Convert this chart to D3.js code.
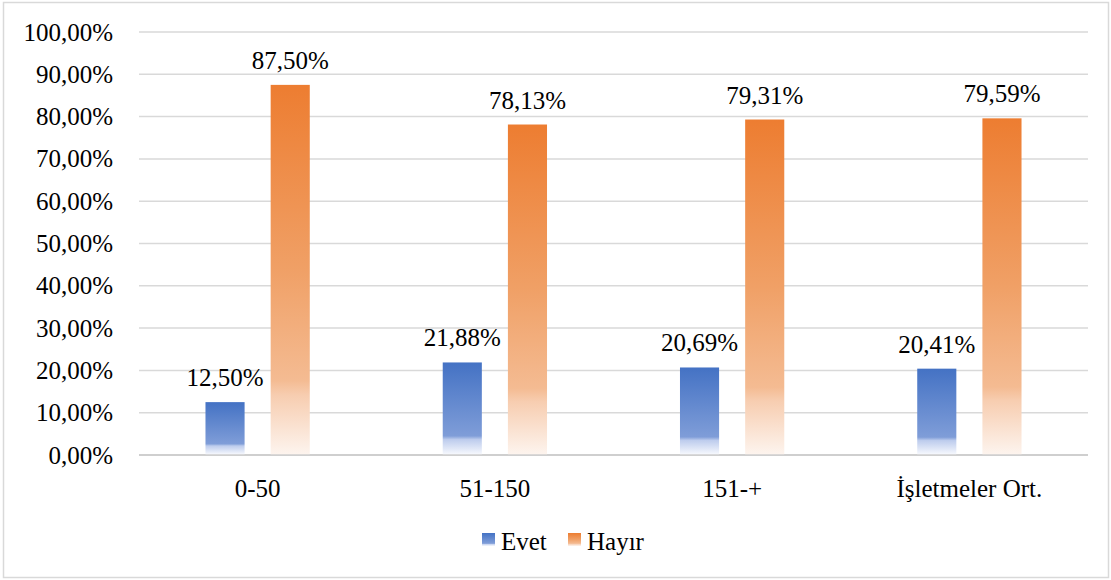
<!DOCTYPE html>
<html>
<head>
    <meta charset="utf-8">
    <script src="https://cdn.jsdelivr.net/npm/d3@7"></script>
    <style>
        body { margin: 0; background: white; }
        svg { display: block; }
        svg text { font-family: "Liberation Serif", "Times New Roman", serif; }
    </style>
</head>
<body>
<svg id="chart"></svg>
<script>
    // data
    let categories = ["0-50", "51-150", "151-+", "İşletmeler Ort."];
    let seriesNames = ["Evet", "Hayır"];
    let evet = [12.50, 21.88, 20.69, 20.41];
    let hayir = [87.50, 78.13, 79.31, 79.59];
    let yTicks = [0, 10, 20, 30, 40, 50, 60, 70, 80, 90, 100];

    let width = 1111, height = 580;
    let svg = d3.select("#chart").attr("width", width).attr("height", height);

    // turkish style numbers: comma decimal
    let locale = d3.formatLocale({decimal: ",", thousands: ".", grouping: [3], currency: ["", ""]});
    let fmt = v => locale.format(".2f")(v) + "%";

    // gradients (top solid -> near white at bottom)
    let defs = svg.append("defs");
    let grads = [
        {id: "gBlue", stops: [[0, "#4472C4"], [0.8, "#7f9dd8"], [0.84, "#bdcced"], [1, "#f6f8fd"]]},
        {id: "gOrange", stops: [[0, "#ED7D31"], [0.5, "#f0a066"], [0.8, "#f4bb92"], [0.84, "#f7cdb0"], [1, "#fdf4ee"]]}
    ];
    grads.forEach(g => {
        let lg = defs.append("linearGradient").attr("id", g.id)
            .attr("x1", 0).attr("y1", 0).attr("x2", 0).attr("y2", 1);
        g.stops.forEach(s => lg.append("stop").attr("offset", s[0]).attr("stop-color", s[1]));
    });
    let fills = ["url(#gBlue)", "url(#gOrange)"];

    // outer border
    svg.append("rect")
        .attr("x", 3.5).attr("y", 2.5)
        .attr("width", 1105).attr("height", 575)
        .attr("fill", "white").attr("stroke", "#d9d9d9").attr("stroke-width", 1.5);

    let plotLeft = 139, plotRight = 1088;
    let y = d3.scaleLinear().domain([0, 100]).range([455, 32]);
    let x0 = d3.scaleBand().domain(categories).range([plotLeft, plotRight]).padding(0);
    let x1 = d3.scaleBand().domain(seriesNames).range([0, x0.bandwidth()])
        .paddingInner(0.4).paddingOuter(1.02);

    // gridlines
    svg.append("g").selectAll("line").data(yTicks).enter().append("line")
        .attr("x1", plotLeft).attr("x2", plotRight)
        .attr("y1", d => y(d)).attr("y2", d => y(d))
        .attr("stroke", d => d == 0 ? "#bfbfbf" : "#d9d9d9")
        .attr("stroke-width", 1.5);

    // y tick labels
    svg.append("g").selectAll("text").data(yTicks).enter().append("text")
        .attr("x", 113).attr("y", d => y(d) + 8.5)
        .attr("text-anchor", "end")
        .style("font-size", "25px").attr("fill", "#000")
        .text(d => fmt(d));

    // x category labels
    svg.append("g").selectAll("text").data(categories).enter().append("text")
        .attr("x", d => x0(d) + x0.bandwidth() / 2).attr("y", 497)
        .attr("text-anchor", "middle")
        .style("font-size", "25px").attr("fill", "#000")
        .text(d => d);

    // bars
    let rows = categories.map((c, i) => ({cat: c, vals: [evet[i], hayir[i]]}));
    let groups = svg.append("g").selectAll("g").data(rows).enter().append("g")
        .attr("transform", d => "translate(" + x0(d.cat) + ",0)");

    groups.selectAll("rect").data(d => d.vals.map((v, i) => ({name: seriesNames[i], v: v, i: i})))
        .enter().append("rect")
        .attr("x", d => x1(d.name))
        .attr("y", d => y(d.v))
        .attr("width", x1.bandwidth())
        .attr("height", d => y(0) - y(d.v) - 0.75)
        .attr("fill", d => fills[d.i]);

    groups.selectAll("text").data(d => d.vals.map((v, i) => ({name: seriesNames[i], v: v, i: i})))
        .enter().append("text")
        .attr("x", d => x1(d.name) + x1.bandwidth() / 2)
        .attr("y", d => y(d.v) - 16)
        .attr("text-anchor", "middle")
        .style("font-size", "25px").attr("fill", "#000")
        .text(d => fmt(d.v));

    // legend
    let legendX = [482, 568];
    let legend = svg.append("g").selectAll("g").data(seriesNames).enter().append("g")
        .attr("transform", (d, i) => "translate(" + legendX[i] + ",533)");
    legend.append("rect")
        .attr("width", 13).attr("height", 13)
        .attr("fill", (d, i) => fills[i]);
    legend.append("text")
        .attr("x", 19).attr("y", 17)
        .style("font-size", "25px").attr("fill", "#000")
        .text(d => d);
</script>
</body>
</html>
